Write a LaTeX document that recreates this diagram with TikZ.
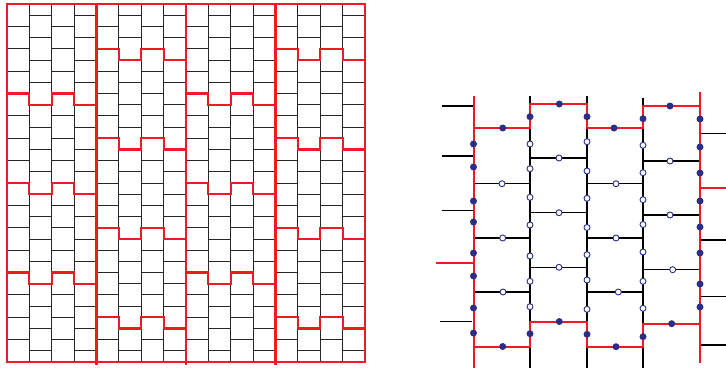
\documentclass[tikz,border=0pt]{standalone}
\usetikzlibrary{calc}
\definecolor{tilered}{RGB}{237,28,36}
\definecolor{dotblue}{RGB}{43,46,131}
\tikzset{
  brick/.style={black!85, line width=0.8pt},
  seam/.style={tilered, line width=2.2pt},
  edge/.style={black, line width=1.2pt},
  cut/.style={tilered, line width=2pt},
  vfill/.style={circle, fill=dotblue, inner sep=0pt, minimum size=7pt},
  vopen/.style={circle, draw=dotblue, fill=white, line width=0.9pt,
                inner sep=0pt, minimum size=6pt},
}

\begin{document}
\begin{tikzpicture}[x=1pt, y=-1pt]
\useasboundingbox (0,0) rectangle (726,368);

% ── Brick tiling (left) ─────────────────────────────────────
\begin{scope}[shift={(7,4)}, x=22.375pt, y=-22.375pt]
  \foreach \c in {0,2,...,14}
    \foreach \k in {1,...,15} \draw[brick] (\c,\k) -- ++(1,0);
  \foreach \c in {1,3,...,15}
    \foreach \k in {0.5,1.5,...,15.5} \draw[brick] (\c,\k) -- ++(1,0);
  \foreach \c in {1,2,3,5,6,7,9,10,11,13,14,15}
    \draw[brick] (\c,0) -- (\c,16);
  % red seams
  \foreach \bx/\lv in {0/4,0/8,0/12,8/4,8/8,8/12,
                       4/2,4/6,4/10,4/14,12/2,12/6,12/10,12/14}
    \draw[seam] (\bx,\lv) -- ++(1,0) -- ++(0,.5) -- ++(1,0) -- ++(0,-.5)
                -- ++(1,0) -- ++(0,.5) -- ++(1,0);
  \draw[seam] (0,0) rectangle (16,16);
  \foreach \c in {4,8,12} \draw[seam] (\c,0) -- (\c,16.12);
\end{scope}

% ── Dual lattice (right) ────────────────────────────────────
\foreach \x/\ya in {530/96,587/96,643/98} \draw[edge] (\x,\ya) -- (\x,368);
\foreach \y in {183.7,238,292} {
  \draw[edge] (473.5,\y) -- (530,\y);
  \draw[edge] (587,\y) -- (643,\y);
}
\foreach \y in {158,212.7,267.3} \draw[edge] (530,\y) -- (587,\y);
\foreach \y in {161,215,269.7} \draw[edge] (643,\y) -- (700,\y);
\foreach \y in {106,156,210.7} \draw[edge] (442,\y) -- (473.5,\y);
\draw[edge] (440,321.7) -- (471.7,321.7);
\foreach \y in {133.3,240,296.7,345} \draw[edge] (700,\y) -- (726,\y);

% red boundary
\draw[cut] (473.5,96) -- (473.5,368);
\draw[cut] (700,92) -- (700,363);
\draw[cut] (473.5,128) -- (530,128) -- (530,104) -- (587,104) -- (587,128)
           -- (643,128) -- (643,106) -- (700,106);
\draw[cut] (473.5,346.7) -- (530,346.7) -- (530,321.7) -- (587,321.7)
           -- (587,346.7) -- (643,346.7) -- (643,323.7) -- (700,323.7);
\draw[cut] (436,262.7) -- (473.5,262.7);
\draw[cut] (700,187.7) -- (726,187.7);

% filled vertices
\foreach \x/\y [count=\i] in {473.5/144,473.5/167,473.5/201,473.5/222,
    473.5/253,473.5/276,473.5/308,473.5/333,
    700/119,700/147,700/173,700/201,700/227,700/253,700/284,700/307,
    530/116.7,530/333.7,587/116.7,587/334.3,643/118.7,643/336.7,
    502.7/128,559.3/104,614/128,670/106,
    502.7/346.5,559.3/321.5,616/346.7,671.7/323.7}
  \node[vfill] (f\i) at (\x,\y) {};

% open vertices
\foreach \x/\y [count=\i] in {530/144,530/168.7,530/197.3,530/225,
    530/256,530/281.3,530/306.7,
    587/141.7,587/171,587/198.3,587/227.5,587/254.7,587/280,587/309.3,
    643/145.3,643/172.7,643/199.7,643/224.5,643/252,643/281.3,643/308.3,
    502/183.7,502.7/238,503/292,559/158,559/212.7,559/267.3,
    616/183.7,616/238,618.3/292,670/161,670/215,672.7/269.7}
  \node[vopen] (o\i) at (\x,\y) {};

\end{tikzpicture}
\end{document}
